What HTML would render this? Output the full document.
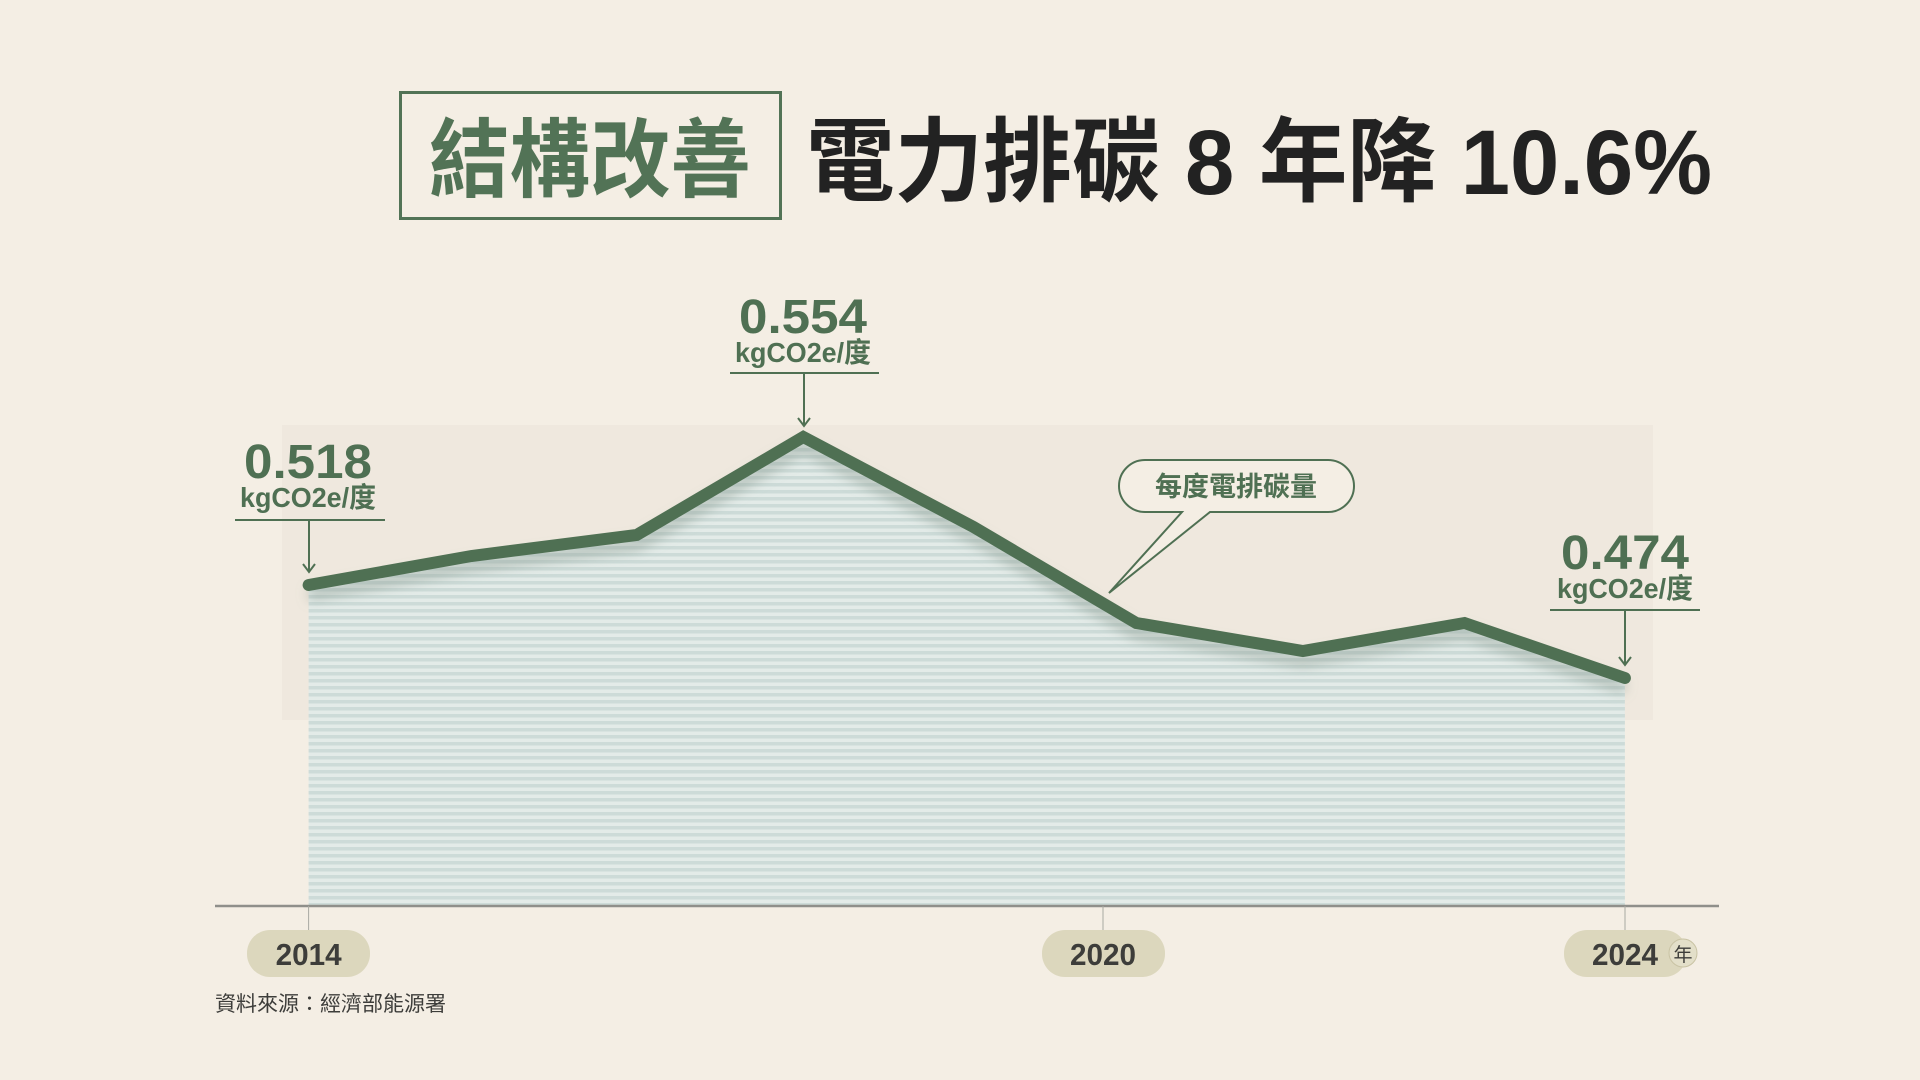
<!DOCTYPE html>
<html><head><meta charset="utf-8"><style>
html,body{margin:0;padding:0;background:#f4eee4;}
body{width:1920px;height:1080px;position:relative;overflow:hidden;font-family:"Liberation Sans","Noto Sans CJK TC",sans-serif;}
</style></head><body>
<svg width="1920" height="1080" viewBox="0 0 1920 1080" xmlns="http://www.w3.org/2000/svg" style="position:absolute;left:0;top:0">
<defs>
<pattern id="st" width="8" height="7" patternUnits="userSpaceOnUse">
<rect width="8" height="7" fill="#e3ebe8"/><rect width="8" height="3.5" fill="#cddbd8"/>
</pattern>
<filter id="sh" x="-10%" y="-30%" width="120%" height="160%"><feGaussianBlur stdDeviation="6"/></filter>
</defs>
<rect x="282" y="425" width="1371" height="295" fill="#efe8de"/>
<polygon points="308.6,585 471.4,556 636.7,535 803.3,437 973.5,527 1136.3,623 1302.9,651 1464.5,623 1624.9,678 1624.9,906 308.6,906" fill="url(#st)"/>
<polyline points="308.6,595 471.4,566 636.7,545 803.3,447 973.5,537 1136.3,633 1302.9,661 1464.5,633 1624.9,688" fill="none" stroke="#8a9a90" stroke-opacity="0.5" stroke-width="12" filter="url(#sh)"/>
<polyline points="308.6,585 471.4,556 636.7,535 803.3,437 973.5,527 1136.3,623 1302.9,651 1464.5,623 1624.9,678" fill="none" stroke="#4f7053" stroke-width="12" stroke-linejoin="miter" stroke-linecap="round"/>
<line x1="215" y1="906" x2="1719" y2="906" stroke="#8f8f8a" stroke-width="2.5"/>
<g stroke="#a9a9a2" stroke-width="1"><line x1="308.6" y1="906" x2="308.6" y2="932"/><line x1="1103" y1="906" x2="1103" y2="932"/><line x1="1625" y1="906" x2="1625" y2="932"/></g>
<g fill="#dcd7bd"><rect x="247" y="930" width="123" height="47" rx="23"/><rect x="1042" y="930" width="123" height="47" rx="23"/><rect x="1564" y="930" width="123" height="47" rx="23"/></g>
<circle cx="1683" cy="953" r="14" fill="#e3dfc9" stroke="#c9c3a4" stroke-width="1"/>
<g font-family="Liberation Sans, Noto Sans CJK TC, sans-serif" fill="#3d3d3a" font-size="31" text-anchor="middle" font-weight="bold">
<text x="308.6" y="965" textLength="66" lengthAdjust="spacingAndGlyphs">2014</text>
<text x="1103" y="965" textLength="66" lengthAdjust="spacingAndGlyphs">2020</text>
<text x="1625" y="965" textLength="66" lengthAdjust="spacingAndGlyphs">2024</text>
<text x="1683" y="961" font-size="19" font-weight="normal">年</text>
</g>
<text x="215" y="1011" font-size="21" fill="#3d3d3a" font-family="Liberation Sans, Noto Sans CJK TC, sans-serif">資料來源：經濟部能源署</text>
<!-- title -->
<rect x="400.5" y="92.5" width="380" height="126" fill="none" stroke="#527356" stroke-width="3"/>
<text x="590" y="190" text-anchor="middle" font-size="86" font-weight="bold" fill="#527356" font-family="Liberation Sans, Noto Sans CJK TC, sans-serif" textLength="322" lengthAdjust="spacingAndGlyphs">結構改善</text>
<text x="806" y="194" font-size="92" font-weight="bold" fill="#222" font-family="Liberation Sans, Noto Sans CJK TC, sans-serif" textLength="906" lengthAdjust="spacingAndGlyphs">電力排碳 8 年降 10.6%</text>
<!-- annotations -->
<g fill="#4f7053" font-family="Liberation Sans, Noto Sans CJK TC, sans-serif" text-anchor="middle" font-weight="bold">
<text x="308" y="478" font-size="48" textLength="128" lengthAdjust="spacingAndGlyphs">0.518</text>
<text x="308" y="507" font-size="28" textLength="136" lengthAdjust="spacingAndGlyphs">kgCO2e/度</text>
<text x="803" y="333" font-size="48" textLength="128" lengthAdjust="spacingAndGlyphs">0.554</text>
<text x="803" y="362" font-size="28" textLength="136" lengthAdjust="spacingAndGlyphs">kgCO2e/度</text>
<text x="1625" y="569" font-size="48" textLength="128" lengthAdjust="spacingAndGlyphs">0.474</text>
<text x="1625" y="598" font-size="28" textLength="136" lengthAdjust="spacingAndGlyphs">kgCO2e/度</text>
</g>
<g stroke="#4f7053" stroke-width="2" fill="none">
<line x1="235" y1="520" x2="385" y2="520"/><line x1="309" y1="520" x2="309" y2="572"/><polyline points="303,564 309,572 315,564"/>
<line x1="730" y1="373" x2="879" y2="373"/><line x1="804" y1="373" x2="804" y2="426"/><polyline points="798,418 804,426 810,418"/>
<line x1="1550" y1="610" x2="1700" y2="610"/><line x1="1625" y1="610" x2="1625" y2="665"/><polyline points="1619,657 1625,665 1631,657"/>
</g>
<path d="M1145,460 H1328 A26,26 0 0 1 1354,486 A26,26 0 0 1 1328,512 H1210 L1109,593 L1182,512 H1145 A26,26 0 0 1 1119,486 A26,26 0 0 1 1145,460 Z" fill="#f4eee4" stroke="#4f7053" stroke-width="2"/>
<text x="1236" y="496" text-anchor="middle" font-size="27" font-weight="bold" fill="#4f7053" font-family="Liberation Sans, Noto Sans CJK TC, sans-serif">每度電排碳量</text>
</svg>
</body></html>
